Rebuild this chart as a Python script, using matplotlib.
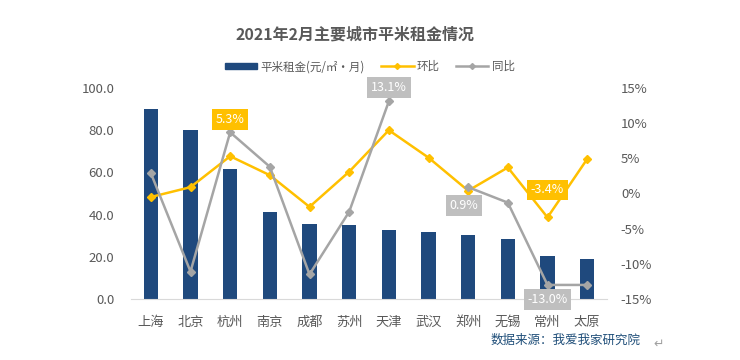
import numpy as np
import matplotlib
matplotlib.use("Agg")
import matplotlib.pyplot as plt
from matplotlib.lines import Line2D
from matplotlib.patches import Patch

plt.rcParams['font.family'] = ['Noto Sans CJK SC', 'DejaVu Sans']

cities = ['上海', '北京', '杭州', '南京', '成都', '苏州', '天津', '武汉', '郑州', '无锡', '常州', '太原']
rent = [90.0, 80.0, 61.7, 41.4, 35.7, 35.3, 32.9, 31.9, 30.2, 28.2, 20.2, 18.9]
mom = [-0.5, 0.9, 5.3, 2.6, -1.9, 3.1, 9.0, 5.1, 0.4, 3.7, -3.4, 4.9]
yoy = [2.9, -11.1, 8.7, 3.8, -11.5, -2.6, 13.1, np.nan, 0.9, -1.3, -13.0, -13.0]

BLUE = '#1F497D'
YELLOW = '#FFC000'
GRAY = '#A5A5A5'
TXT = '#595959'

fig = plt.figure(figsize=(7.4, 3.6), dpi=100)
ax = fig.add_axes([131/740, 61/360, 476/740, 211/360])
x = np.arange(len(cities))
ax.bar(x, rent, width=0.36, color=BLUE, zorder=2)
ax.set_xlim(-0.5, len(cities) - 0.5)
ax.set_ylim(0, 100)
ax.set_yticks(np.arange(0, 101, 20))
ax.set_yticklabels([f'{v:.1f}' for v in np.arange(0, 101, 20)])
ax.set_xticks(x)
ax.set_xticklabels(cities)
for s in ['top', 'right', 'left']:
    ax.spines[s].set_visible(False)
ax.spines['bottom'].set_color('#D9D9D9')
ax.tick_params(axis='both', length=0, colors=TXT, labelsize=9.5)
ax.tick_params(axis='x', pad=12)
ax.tick_params(axis='y', pad=12)

ax2 = ax.twinx()
ax2.set_ylim(-15, 15)
ax2.set_yticks(np.arange(-15, 16, 5))
ax2.set_yticklabels([f'{v}%' for v in range(-15, 16, 5)])
for s in ax2.spines.values():
    s.set_visible(False)
ax2.tick_params(axis='y', length=0, colors=TXT, labelsize=9.5, pad=10)
ax2.plot(x, mom, color=YELLOW, lw=1.8, marker='D', ms=4.5, zorder=3)
ax2.plot(x, yoy, color=GRAY, lw=1.8, marker='D', ms=4.5, zorder=3)

def box(xi, yi, txt, fc):
    ax2.text(xi, yi, txt, ha='center', va='center', color='white', fontsize=9,
             bbox=dict(boxstyle='square,pad=0.3', fc=fc, ec='none'), zorder=5)

box(2, 10.5, '5.3%', YELLOW)
box(6, 15.1, '13.1%', '#BFBFBF')
box(7.9, -1.7, '0.9%', '#BFBFBF')
box(10, 0.5, '-3.4%', YELLOW)
box(10, -15.1, '-13.0%', '#BFBFBF')

fig.text(0.48, 0.905, '2021年2月主要城市平米租金情况', ha='center', va='center',
         fontsize=11.5, fontweight='bold', color=TXT)

handles = [Patch(color=BLUE),
           Line2D([], [], color=YELLOW, lw=1.8, marker='D', ms=3),
           Line2D([], [], color=GRAY, lw=1.8, marker='D', ms=3)]
fig.legend(handles, ['平米租金(元/㎡·月)', '环比', '同比'], loc='center',
           bbox_to_anchor=(0.5, 0.815), ncol=3, frameon=False, fontsize=8.3,
           labelcolor=TXT, handlelength=2.8, handleheight=0.5, columnspacing=1.4,
           handletextpad=0.3)

fig.text(0.865, 0.055, '数据来源：我爱我家研究院', ha='right', va='center', fontsize=9, color='#1F4E79')
fig.text(0.89, 0.045, '↵', ha='center', va='center', fontsize=9, color='#A0A0A0')

fig.savefig('out.png', dpi=100, facecolor='white')
